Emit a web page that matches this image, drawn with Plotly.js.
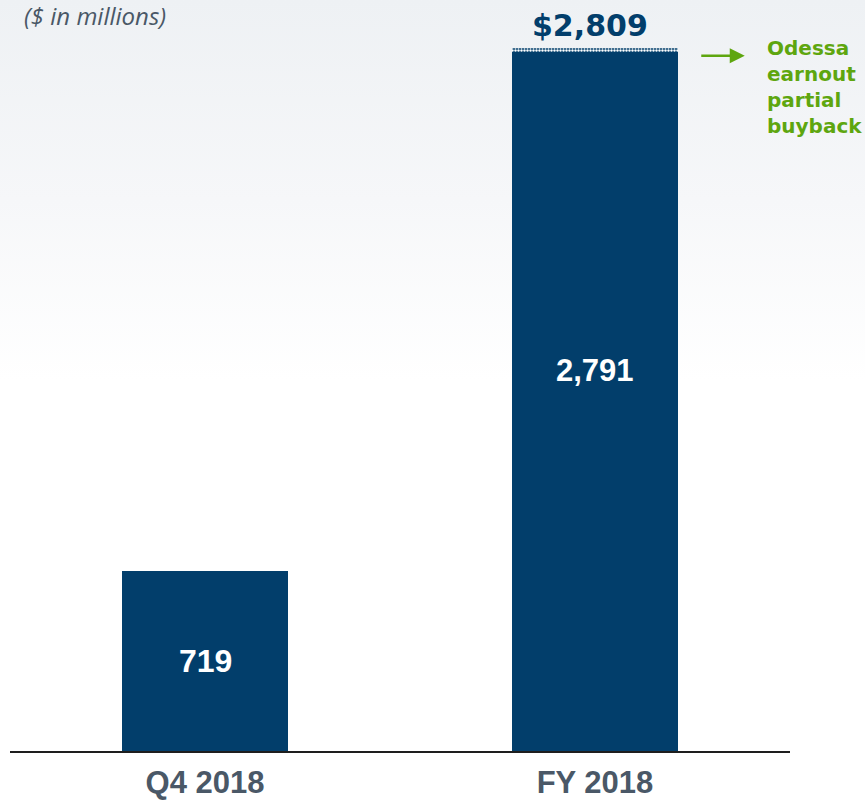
<!DOCTYPE html>
<html>
<head>
<meta charset="utf-8">
<script src="https://cdn.plot.ly/plotly-3.0.1.min.js"></script>
<style>
  html, body { margin: 0; padding: 0; }
  body { width: 865px; height: 800px; background: linear-gradient(to bottom, #eef1f4 0px, #f6f7f9 200px, #ffffff 380px, #ffffff 800px); }
  #chart { width: 865px; height: 800px; }
</style>
</head>
<body>
<div id="chart"></div>
<script>
const categories = ["Q4 2018", "FY 2018"];
const baseValues = [719, 2791];
const buybackValues = [0, 18];
const baseLabels = ["719", "2,791"];
const totalLabel = "$2,809";
const noteText = "Odessa<br>earnout<br>partial<br>buyback";

const navy = "#023e6b";
const green = "#5ea60f";
const gray = "#4a5867";

const totals = baseValues.map((v, i) => v + buybackValues[i]);

const traces = [
  {
    type: "bar", x: categories, y: baseValues,
    marker: { color: navy, line: { width: 0 } },
    hoverinfo: "skip"
  },
  {
    type: "bar", x: categories, y: buybackValues,
    marker: { color: navy, line: { width: 0 },
      pattern: { shape: ".", fgcolor: "#ffffff", bgcolor: navy, size: 3, solidity: 0.5 } },
    hoverinfo: "skip"
  }
];

const annotations = [
  { x: categories[0], y: baseValues[0] / 2, xref: "x", yref: "y", text: baseLabels[0], showarrow: false,
    font: { family: "Liberation Sans, Arial", size: 32, color: "#ffffff", weight: "bold" } },
  { x: categories[1], y: baseValues[1] * 0.545, xref: "x", yref: "y", text: baseLabels[1], showarrow: false,
    font: { family: "Liberation Sans, Arial", size: 31, color: "#ffffff", weight: "bold" } },
  { x: categories[1], y: totals[1], xref: "x", yref: "y", text: totalLabel, showarrow: false,
    yanchor: "bottom", yshift: 3, xshift: -5,
    font: { family: "DejaVu Sans", size: 30, color: navy, weight: "bold" } },
  { x: 0.942, y: totals[1], xref: "paper", yref: "y", yshift: -8, text: "", showarrow: true,
    ax: -45, ay: 0, arrowhead: 2, arrowsize: 1.2, arrowwidth: 2.5, arrowcolor: green },
  { x: 0.968, y: totals[1], xref: "paper", yref: "y", yshift: 14, text: noteText, showarrow: false,
    xanchor: "left", yanchor: "top", align: "left",
    font: { family: "DejaVu Sans", size: 20, color: green, weight: "bold" } },
  { x: 0.015, y: 1.034, xref: "paper", yref: "paper", text: "($ in millions)", showarrow: false,
    xanchor: "left", yanchor: "middle", align: "left",
    font: { family: "Open Sans, Noto Sans", size: 24, color: gray, style: "italic" } }
];

const layout = {
  width: 865, height: 800,
  margin: { l: 10, r: 75, t: 40, b: 49, pad: 0 },
  paper_bgcolor: "rgba(0,0,0,0)", plot_bgcolor: "rgba(0,0,0,0)",
  barmode: "stack", bargap: 0.574,
  showlegend: false,
  xaxis: {
    type: "category", range: [-0.5, 1.5], showline: true, linecolor: "#1e1e1e", linewidth: 2,
    ticks: "", showgrid: false, zeroline: false, fixedrange: true,
    tickfont: { family: "Liberation Sans, Arial", size: 31, color: gray, weight: "bold" },
    ticklabelstandoff: 3
  },
  yaxis: { range: [0, 2840], visible: false, showgrid: false, zeroline: false, fixedrange: true },
  annotations: annotations
};

Plotly.newPlot("chart", traces, layout, { displayModeBar: false, staticPlot: true });
</script>
</body>
</html>
